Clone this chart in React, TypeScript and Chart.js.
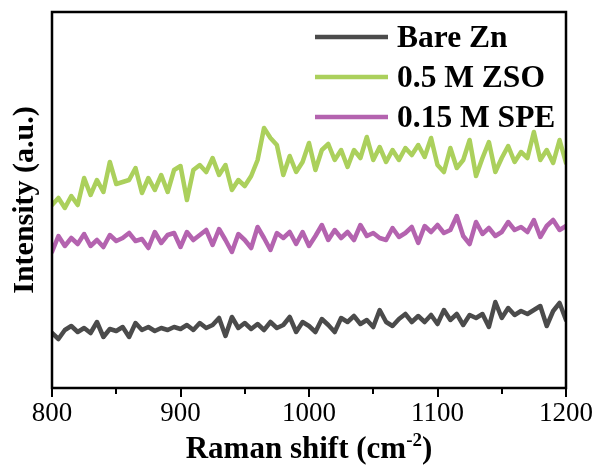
import React, { useEffect, useRef } from "react";
import { Chart, registerables } from "chart.js";

Chart.register(...registerables);

const ramanShift = [
  800, 805, 810, 815, 820, 825, 830, 835, 840, 845, 850, 855, 860, 865, 870, 875, 880, 885, 890, 895,
  900, 905, 910, 915, 920, 925, 930, 935, 940, 945, 950, 955, 960, 965, 970, 975, 980, 985, 990, 995,
  1000, 1005, 1010, 1015, 1020, 1025, 1030, 1035, 1040, 1045, 1050, 1055, 1060, 1065, 1070, 1075, 1080, 1085, 1090, 1095,
  1100, 1105, 1110, 1115, 1120, 1125, 1130, 1135, 1140, 1145, 1150, 1155, 1160, 1165, 1170, 1175, 1180, 1185, 1190, 1195,
  1200,
];

const bareZn = [
  67, 61, 70, 74, 68, 72, 67, 78, 63, 71, 69, 73, 63, 77, 70, 73, 69, 72, 70, 73,
  71, 75, 70, 77, 72, 75, 82, 64, 83, 72, 77, 71, 76, 70, 78, 72, 75, 83, 68, 78,
  74, 68, 81, 75, 68, 82, 78, 84, 76, 80, 73, 90, 78, 74, 81, 86, 78, 84, 78, 85,
  76, 90, 80, 86, 75, 85, 82, 86, 73, 98, 82, 92, 85, 89, 86, 90, 94, 74, 89, 97,
  80,
];

const zso = [
  195, 202, 192, 204, 195, 222, 205, 220, 208, 238, 216, 218, 220, 232, 207, 222, 210, 225, 208, 230,
  234, 200, 230, 235, 228, 242, 225, 235, 210, 220, 214, 224, 240, 272, 262, 255, 225, 244, 228, 238,
  257, 230, 250, 256, 240, 250, 233, 250, 242, 263, 240, 253, 238, 250, 240, 252, 245, 255, 243, 262,
  235, 228, 252, 232, 240, 260, 224, 242, 258, 228, 242, 254, 238, 248, 242, 268, 240, 250, 237, 260,
  237,
];

const spe = [
  148, 164, 154, 162, 156, 166, 154, 160, 153, 165, 159, 162, 167, 159, 161, 152, 168, 157, 165, 167,
  153, 168, 160, 165, 170, 155, 171, 160, 148, 166, 160, 152, 173, 162, 150, 167, 162, 168, 156, 168,
  154, 164, 175, 160, 170, 162, 168, 160, 175, 164, 167, 162, 160, 172, 163, 167, 173, 157, 174, 168,
  175, 167, 170, 184, 164, 156, 178, 166, 172, 164, 168, 178, 170, 173, 168, 180, 163, 174, 180, 170,
  174,
];

const seriesNames = ["Bare Zn", "0.5 M ZSO", "0.15 M SPE"];
const seriesColors = ["#4b4b4b", "#abd05c", "#b463af"];
const xTicks = [800, 900, 1000, 1100, 1200];
const xMinorTicks = [850, 950, 1050, 1150];

const SERIF = '"Liberation Serif", "Times New Roman", serif';

const framePlugin = {
  id: "frameAndLegend",
  afterDraw(chart: any) {
    const { ctx, chartArea } = chart;
    const xs = chart.scales.x;
    ctx.save();
    ctx.strokeStyle = "#000";
    ctx.lineWidth = 2.5;
    ctx.strokeRect(chartArea.left, chartArea.top, chartArea.right - chartArea.left, chartArea.bottom - chartArea.top);
    ctx.lineWidth = 2;
    xTicks.forEach((v) => {
      const px = Math.round(xs.getPixelForValue(v));
      ctx.beginPath();
      ctx.moveTo(px, chartArea.bottom);
      ctx.lineTo(px, chartArea.bottom + 9);
      ctx.stroke();
    });
    xMinorTicks.forEach((v) => {
      const px = Math.round(xs.getPixelForValue(v));
      ctx.beginPath();
      ctx.moveTo(px, chartArea.bottom);
      ctx.lineTo(px, chartArea.bottom + 6);
      ctx.stroke();
    });
    const mainText = "Raman shift (cm";
    const supText = "-2";
    const endText = ")";
    ctx.fillStyle = "#000";
    ctx.textBaseline = "alphabetic";
    ctx.font = `bold 31px ${SERIF}`;
    const w1 = ctx.measureText(mainText).width;
    const w3 = ctx.measureText(endText).width;
    ctx.font = `bold 19px ${SERIF}`;
    const w2 = ctx.measureText(supText).width;
    const total = w1 + w2 + w3;
    const cx = (chartArea.left + chartArea.right) / 2;
    const x0 = cx - total / 2;
    const base = 458;
    ctx.font = `bold 31px ${SERIF}`;
    ctx.textAlign = "left";
    ctx.fillText(mainText, x0, base);
    ctx.font = `bold 19px ${SERIF}`;
    ctx.fillText(supText, x0 + w1, base - 12);
    ctx.font = `bold 31px ${SERIF}`;
    ctx.fillText(endText, x0 + w1 + w2, base);
    const rows = [37, 77, 117];
    chart.data.datasets.forEach((ds: any, i: number) => {
      const y = rows[i];
      ctx.strokeStyle = ds.borderColor;
      ctx.lineWidth = 4.5;
      ctx.beginPath();
      ctx.moveTo(315, y);
      ctx.lineTo(388, y);
      ctx.stroke();
      ctx.fillStyle = "#000";
      ctx.font = `bold 31.5px ${SERIF}`;
      ctx.textBaseline = "middle";
      ctx.textAlign = "left";
      ctx.fillText(ds.label, 397, y + 2);
    });
    ctx.restore();
  },
};

export default function App() {
  const ref = useRef<HTMLCanvasElement | null>(null);
  useEffect(() => {
    document.body.style.margin = "0";
    const canvas = ref.current;
    if (!canvas) return;
    const mk = (vals: number[]) => ramanShift.map((x, i) => ({ x, y: vals[i] }));
    const chart = new Chart(canvas, {
      type: "line",
      data: {
        datasets: [
          { label: seriesNames[0], data: mk(bareZn), borderColor: seriesColors[0] },
          { label: seriesNames[1], data: mk(zso), borderColor: seriesColors[1] },
          { label: seriesNames[2], data: mk(spe), borderColor: seriesColors[2] },
        ].map((d) => ({
          ...d,
          borderWidth: 4.5,
          pointRadius: 0,
          tension: 0,
          fill: false,
          borderJoinStyle: "round" as const,
          borderCapStyle: "round" as const,
        })),
      },
      options: {
        animation: false,
        responsive: false,
        devicePixelRatio: 1,
        layout: { padding: { left: 0, top: 12, right: 36, bottom: 0 } },
        plugins: { legend: { display: false }, tooltip: { enabled: false } },
        scales: {
          x: {
            type: "linear",
            min: 800,
            max: 1200,
            grid: { display: false, drawTicks: false },
            border: { display: false },
            ticks: {
              stepSize: 100,
              padding: 10,
              color: "#000",
              font: { family: SERIF, size: 27 },
              maxRotation: 0,
              callback: (v: any) => String(v),
            },
            afterFit: (s: any) => {
              s.height = 87;
            },
          },
          y: {
            min: 12,
            max: 388,
            grid: { display: false, drawTicks: false },
            border: { display: false },
            ticks: { display: false },
            title: {
              display: true,
              text: "Intensity (a.u.)",
              color: "#000",
              font: { family: SERIF, size: 30, weight: "bold" },
              padding: { top: 7, bottom: 0 },
            },
            afterFit: (s: any) => {
              s.width = 52;
            },
          },
        },
      },
      plugins: [framePlugin],
    });
    return () => chart.destroy();
  }, []);
  return (
    <div style={{ width: 603, height: 475, background: "#fff" }}>
      <canvas ref={ref} width={603} height={475} style={{ width: 603, height: 475, display: "block" }} />
    </div>
  );
}
